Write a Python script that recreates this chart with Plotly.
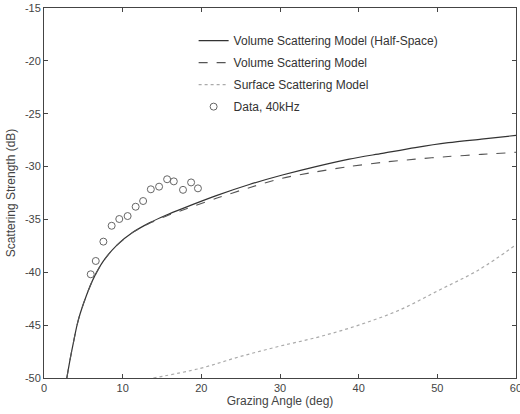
import plotly.graph_objects as go

# Volume scattering model (half-space) - solid
vol_hs_x = [2.9, 3.3, 3.75, 4.2, 4.6, 5.44, 6.28, 7.54, 9.24, 11.34, 13.46, 15.5, 17.67, 21.9, 26.1, 30.3, 34.56, 38.8, 43.0, 47.2, 51.4, 55.6, 60.0]
vol_hs_y = [-50.0, -48.3, -46.6, -45.0, -43.9, -42.1, -40.6, -38.95, -37.45, -36.2, -35.3, -34.6, -33.95, -32.75, -31.7, -30.8, -30.0, -29.3, -28.75, -28.2, -27.74, -27.4, -27.05]

# Volume scattering model - dashed
vol_x = [2.9, 3.3, 3.75, 4.2, 4.6, 5.44, 6.28, 7.54, 9.24, 11.34, 13.46, 15.5, 17.67, 21.9, 26.1, 30.3, 34.56, 38.8, 43.0, 47.2, 51.4, 55.6, 60.0]
vol_y = [-50.0, -48.3, -46.6, -45.0, -43.9, -42.1, -40.6, -38.95, -37.45, -36.2, -35.35, -34.7, -34.1, -33.0, -32.0, -31.1, -30.5, -30.0, -29.6, -29.3, -29.05, -28.85, -28.65]

# Surface scattering model - dotted
surf_x = [13.9, 19.8, 24.8, 29.9, 35.0, 40.0, 45.1, 50.2, 55.2, 60.0]
surf_y = [-50.0, -49.1, -48.0, -47.0, -46.1, -45.0, -43.6, -41.7, -39.8, -37.4]

# Data, 40 kHz
data_x = [5.94, 6.58, 7.55, 8.6, 9.57, 10.63, 11.65, 12.6, 13.58, 14.63, 15.65, 16.5, 17.67, 18.7, 19.57]
data_y = [-40.19, -38.93, -37.1, -35.6, -34.96, -34.68, -33.8, -33.26, -32.15, -31.9, -31.2, -31.4, -32.2, -31.5, -32.06]

x_ticks = [0, 10, 20, 30, 40, 50, 60]
x_ticklabels = ["0", "10", "20", "30", "40", "50", "60"]
y_ticks = [-50, -45, -40, -35, -30, -25, -20, -15]
y_ticklabels = ["-50", "-45", "-40", "-35", "-30", "-25", "-20", "-15"]

fig = go.Figure()
fig.add_trace(go.Scatter(x=vol_hs_x, y=vol_hs_y, mode="lines", line=dict(color="#333333", width=1.2, shape="spline", smoothing=0.8),
                         name="Volume Scattering Model (Half-Space)", legendgroup="a"))
fig.add_trace(go.Scatter(x=vol_x, y=vol_y, mode="lines", line=dict(color="#555555", width=1.1, dash="dash", shape="spline", smoothing=0.8),
                         name="Volume Scattering Model", legendgroup="b"))
fig.add_trace(go.Scatter(x=surf_x, y=surf_y, mode="lines", line=dict(color="#aaaaaa", width=1.2, dash="dot", shape="spline"),
                         name="Surface Scattering Model", legendgroup="c"))
fig.add_trace(go.Scatter(x=data_x, y=data_y, mode="markers",
                         marker=dict(symbol="circle-open", size=7, color="#666666", line=dict(width=1)),
                         name="Data, 40kHz", legendgroup="d"))

axis_common = dict(showline=True, linecolor="#444444", linewidth=1, mirror="ticks", ticks="inside",
                   ticklen=4, tickcolor="#444444", showgrid=False, zeroline=False, automargin=False,
                   tickfont=dict(size=11, color="#444444"))
fig.update_layout(
    width=520, height=414,
    margin=dict(l=44, r=4, t=8, b=36),
    paper_bgcolor="white", plot_bgcolor="white",
    font=dict(family="Liberation Sans, Arial, sans-serif", color="#444444", size=11),
    xaxis=dict(range=[0, 60.001], tickvals=x_ticks, ticktext=x_ticklabels, ticklabeloverflow="allow",
               title=dict(text="Grazing Angle (deg)", standoff=0, font=dict(size=12)), **axis_common),
    yaxis=dict(range=[-50, -15], tickvals=y_ticks, ticktext=y_ticklabels,
               title=dict(text="Scattering Strength (dB)", standoff=6, font=dict(size=12)), **axis_common),
    legend=dict(x=0.317, y=0.951, xanchor="left", yanchor="top", bgcolor="rgba(0,0,0,0)",
                font=dict(size=12, color="#333333"), tracegroupgap=3),
    showlegend=True,
)
fig.write_html("out.html", config={"displayModeBar": False},
               post_script="document.body.style.margin='0';")
